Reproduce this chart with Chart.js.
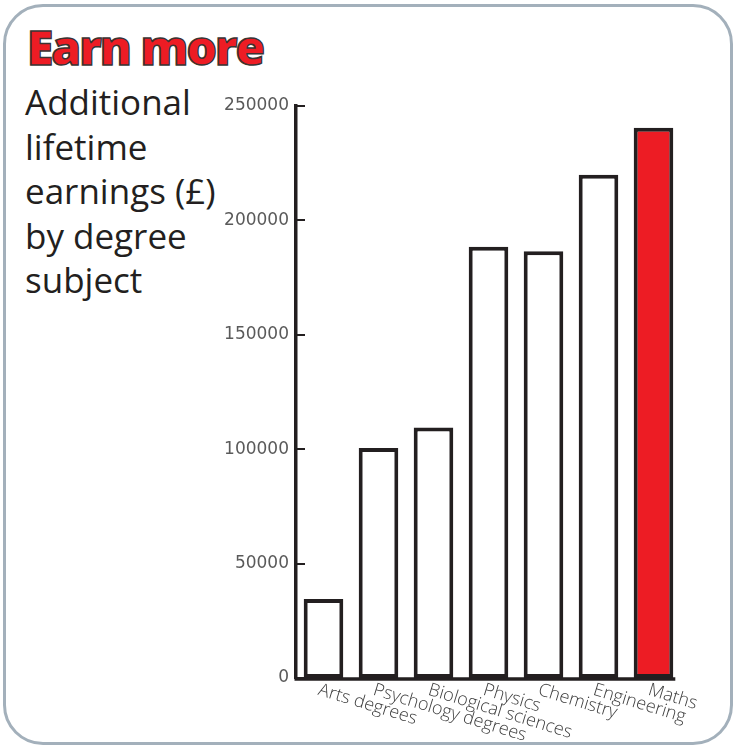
<!DOCTYPE html>
<html>
<head>
<meta charset="utf-8">
<script src="https://cdn.jsdelivr.net/npm/chart.js@4"></script>
<style>
  html, body { margin: 0; padding: 0; background: #fff; }
  #wrap { position: relative; width: 735px; height: 748px; overflow: hidden; }
  #frame { position: absolute; left: 3px; top: 4px; width: 724px; height: 735px;
           border: 3px solid #a3b0bb; border-radius: 40px; box-sizing: content-box; }
  #title { position: absolute; left: 27px; top: 17px; margin: 0;
           font-family: "Open Sans", sans-serif; font-weight: 800; font-size: 48px;
           color: #ed1c24; -webkit-text-stroke: 1.5px #3a3434; letter-spacing: -2px; line-height: 60px; }
  #sub { position: absolute; left: 25px; top: 80px; margin: 0;
         font-family: "Open Sans", sans-serif; font-weight: 400; font-size: 35px;
         color: #231f20; line-height: 44.5px; }
  canvas { position: absolute; left: 0; top: 0; }
</style>
</head>
<body>
<div id="wrap">
  <div id="frame"></div>
  <div id="title">Earn more</div>
  <div id="sub">Additional<br>lifetime<br>earnings (£)<br>by degree<br>subject</div>
  <canvas id="c" width="735" height="748"></canvas>
</div>
<script>
const categories = ["Arts degrees", "Psychology degrees", "Biological sciences", "Physics", "Chemistry", "Engineering", "Maths"];
const earnings = [34500, 100500, 109500, 188500, 186500, 220000, 240500];
const barFills = ["#ffffff", "#ffffff", "#ffffff", "#ffffff", "#ffffff", "#ffffff", "#ed1c24"];
const yTicks = [0, 50000, 100000, 150000, 200000, 250000];

const customAxes = {
  id: 'customAxes',
  afterDraw(chart) {
    const ctx = chart.ctx;
    const y = chart.scales.y, x = chart.scales.x;
    const area = chart.chartArea;
    ctx.save();
    ctx.strokeStyle = '#231f20';
    ctx.lineWidth = 2;
    yTicks.forEach(v => {
      const py = Math.round(y.getPixelForValue(v));
      ctx.beginPath();
      ctx.moveTo(area.left, py);
      ctx.lineTo(area.left + 9, py);
      ctx.stroke();
    });
    const meta = chart.getDatasetMeta(0);
    const last = meta.data[meta.data.length - 1];
    const endX = last.x + last.width / 2 + 2;
    ctx.lineWidth = 3.5;
    ctx.beginPath();
    ctx.moveTo(area.left - 1.5, y.getPixelForValue(0) + 1);
    ctx.lineTo(endX, y.getPixelForValue(0) + 1);
    ctx.stroke();
    ctx.fillStyle = '#3d3d3d';
    ctx.font = '300 18px "Open Sans", sans-serif';
    ctx.textAlign = 'left';
    ctx.textBaseline = 'top';
    categories.forEach((c, i) => {
      const px = x.getPixelForValue(i);
      ctx.save();
      ctx.translate(px - 2, y.getPixelForValue(0) + 3);
      ctx.rotate(17 * Math.PI / 180);
      ctx.fillText(c, 0, 0);
      ctx.restore();
    });
    ctx.restore();
  }
};

new Chart(document.getElementById('c'), {
  type: 'bar',
  data: {
    labels: categories,
    datasets: [{
      data: earnings,
      backgroundColor: barFills,
      borderColor: '#231f20',
      borderWidth: 4,
      borderSkipped: false,
      barPercentage: 0.72,
      categoryPercentage: 1.0
    }]
  },
  options: {
    responsive: false,
    animation: false,
    devicePixelRatio: 1,
    layout: { padding: { top: 106, right: 54, bottom: 0, left: 0 } },
    plugins: { legend: { display: false }, tooltip: { enabled: false } },
    scales: {
      x: {
        grid: { display: false },
        border: { display: false },
        ticks: { display: false },
        afterFit(s) { s.height = 70; }
      },
      y: {
        min: 0, max: 250000,
        afterBuildTicks(s) { s.ticks = yTicks.map(v => ({ value: v })); },
        grid: { display: false, drawTicks: false },
        border: { display: true, color: '#231f20', width: 3.5 },
        ticks: {
          color: '#5a5a5a',
          font: { family: 'DejaVu Sans', size: 17, weight: 'normal' },
          padding: 7,
          callback: v => String(v)
        },
        afterFit(s) { s.width = 296; }
      }
    }
  },
  plugins: [customAxes]
});
</script>
</body>
</html>
